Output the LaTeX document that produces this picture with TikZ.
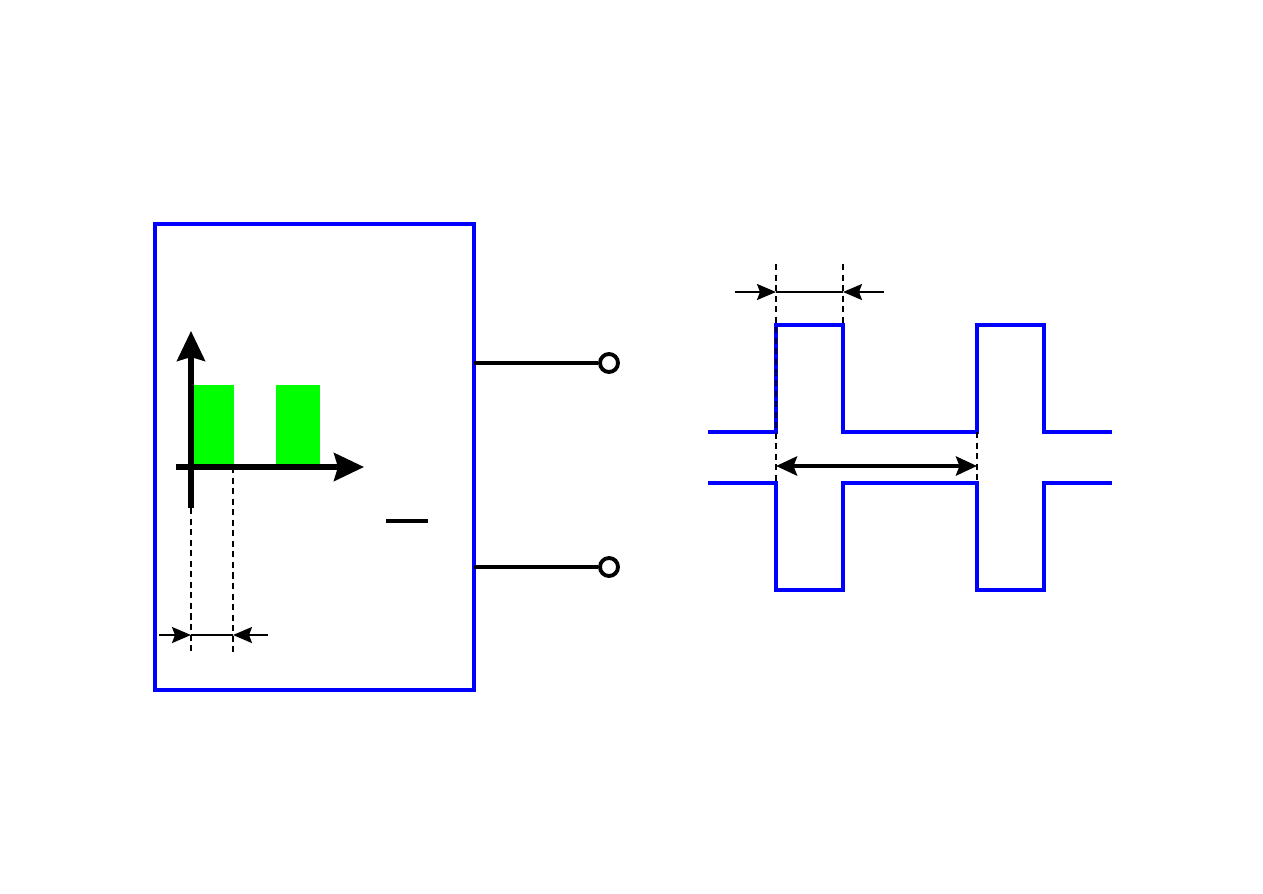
\documentclass[tikz,border=0pt]{standalone}
\usetikzlibrary{arrows.meta}
\begin{document}
\begin{tikzpicture}[x=0.02cm,y=-0.02cm,
  boxline/.style={draw=blue,line width=2.4pt},
  wave/.style={draw=blue,line width=2pt},
  axis/.style={line width=3pt,-{Stealth[length=0.6cm,width=0.56cm,inset=0.08cm]}},
  thick wire/.style={line width=2.4pt},
  guide/.style={line width=1pt,dash pattern=on 3.5pt off 2.5pt},
  dimline/.style={line width=1.2pt},
  smallhead/.style={-{Stealth[length=0.38cm,width=0.32cm,inset=0.06cm]}},
  dbl/.style={line width=2.4pt,{Stealth[length=0.42cm,width=0.38cm,inset=0.07cm]}-{Stealth[length=0.42cm,width=0.38cm,inset=0.07cm]}},
  term/.style={circle,draw,line width=2.2pt,minimum size=0.36cm,inner sep=0pt,fill=white}]
\useasboundingbox (0,0) rectangle (1263,893);
% box
\draw[boxline] (155,224) rectangle (474,690);
% green bars
\fill[green] (193,385) rectangle (234,467);
\fill[green] (276,385) rectangle (320,467);
% axes
\coordinate (yb) at (191,508); \coordinate (yt) at (191,331);
\coordinate (xl) at (176,467); \coordinate (xr) at (364,467);
\draw[axis] (yb) -- (yt);
\draw[axis] (xl) -- (xr);
% guides
\coordinate (g1t) at (191,508); \coordinate (g1b) at (191,655);
\coordinate (g2t) at (233,467); \coordinate (g2b) at (233,655);
\draw[guide] (g1t) -- (g1b);
\draw[guide] (g2t) -- (g2b);
% width dimension
\coordinate (d1) at (159,635); \coordinate (d2) at (191,635);
\coordinate (d3) at (233,635); \coordinate (d4) at (268,635);
\draw[dimline] (d2) -- (d3);
\draw[dimline,smallhead] (d1) -- (d2);
\draw[dimline,smallhead] (d4) -- (d3);
% short bar
\coordinate (m1) at (386,521); \coordinate (m2) at (428,521);
\draw[thick wire] (m1) -- (m2);
% terminals
\node[term] (t1) at (609,363) {};
\node[term] (t2) at (609,567) {};
\coordinate (w1) at (474,363); \coordinate (w2) at (474,567);
\draw[thick wire] (w1) -- (t1);
\draw[thick wire] (w2) -- (t2);
% waveforms
\draw[wave] (708,432) -- (776,432) -- (776,325) -- (843,325) -- (843,432) -- (977,432) -- (977,325) -- (1044,325) -- (1044,432) -- (1112,432);
\draw[wave] (708,483) -- (776,483) -- (776,590) -- (843,590) -- (843,483) -- (977,483) -- (977,590) -- (1044,590) -- (1044,483) -- (1112,483);
% guides right
\coordinate (r1t) at (776,264); \coordinate (r1b) at (776,483);
\coordinate (r2t) at (843,264); \coordinate (r2b) at (843,325);
\coordinate (r3t) at (977,432); \coordinate (r3b) at (977,483);
\draw[guide] (r1t) -- (r1b);
\draw[guide] (r2t) -- (r2b);
\draw[guide] (r3t) -- (r3b);
% top dimension
\coordinate (e1) at (735,292); \coordinate (e2) at (776,292);
\coordinate (e3) at (843,292); \coordinate (e4) at (884,292);
\draw[dimline] (e2) -- (e3);
\draw[dimline,smallhead] (e1) -- (e2);
\draw[dimline,smallhead] (e4) -- (e3);
% period
\coordinate (p1) at (776,466); \coordinate (p2) at (977,466);
\draw[dbl] (p1) -- (p2);
\end{tikzpicture}
\end{document}
